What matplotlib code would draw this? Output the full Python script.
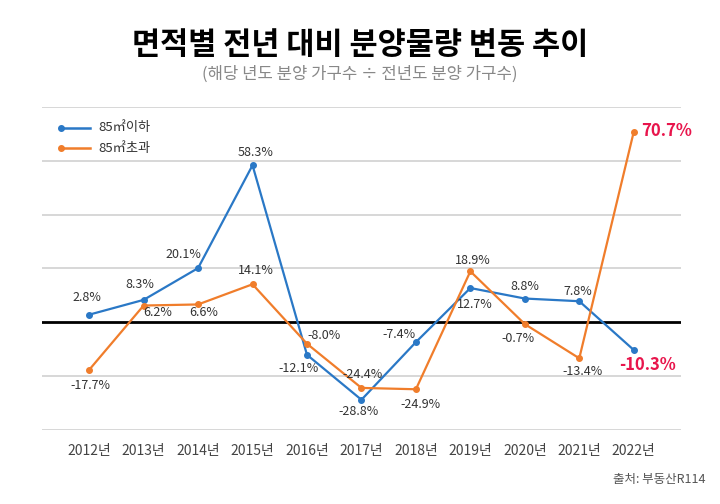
import matplotlib.pyplot as plt

plt.rcParams['font.family'] = ['Noto Sans CJK KR', 'DejaVu Sans']

years = ['2012년', '2013년', '2014년', '2015년', '2016년', '2017년',
         '2018년', '2019년', '2020년', '2021년', '2022년']
small = [2.8, 8.3, 20.1, 58.3, -12.1, -28.8, -7.4, 12.7, 8.8, 7.8, -10.3]   # 85㎡이하
large = [-17.7, 6.2, 6.6, 14.1, -8.0, -24.4, -24.9, 18.9, -0.7, -13.4, 70.7]  # 85㎡초과

blue = '#2a78c6'
orange = '#f07d2b'
red = '#e8154c'

# label offsets in pixels (dx, dy)
off_small = [(-2, 17), (-4, 15), (-15, 14), (3, 13), (-8, -14), (-3, -12),
             (-17, 8), (4, -16), (0, 12), (-1, 10), (14, -15)]
off_large = [(1, -16), (14, -7), (6, -8), (3, 14), (17, 8), (1, 13),
             (5, -15), (2, 11), (-7, -14), (3, -13), (7, 1)]

fig = plt.figure(figsize=(7.2, 5.04), dpi=100)
ax = fig.add_axes([0.058, 0.147, 0.888, 0.641])

x = list(range(len(years)))
for v in [-40, -20, 20, 40, 60, 80]:
    ax.axhline(v, color='#d4d4d4', lw=1.3, zorder=0)
ax.axhline(0, color='black', lw=2, zorder=1)

ax.plot(x, small, '-o', color=blue, lw=1.6, ms=4, zorder=3)
ax.plot(x, large, '-o', color=orange, lw=1.6, ms=4, zorder=3)

for i, v in enumerate(small):
    last = i == len(small) - 1
    ax.annotate(f'{v:.1f}%', (i, v), xytext=off_small[i], textcoords='offset pixels',
                ha='center', va='center', fontsize=12 if last else 9,
                color=red if last else '#333333', fontweight='bold' if last else 'normal')
for i, v in enumerate(large):
    last = i == len(large) - 1
    ax.annotate(f'{v:.1f}%', (i, v), xytext=off_large[i], textcoords='offset pixels',
                ha='left' if last else 'center', va='center', fontsize=12 if last else 9,
                color=red if last else '#333333', fontweight='bold' if last else 'normal')

ax.set_xlim(-0.87, 10.87)
ax.set_ylim(-40, 80)
ax.set_xticks(x)
ax.set_xticklabels(years, fontsize=10, color='#444444')
ax.tick_params(axis='x', length=0, pad=10)
ax.set_yticks([])
for s in ax.spines.values():
    s.set_visible(False)

# legend
for k, (lab, c) in enumerate([('85㎡이하', blue), ('85㎡초과', orange)]):
    yy = 0.935 - k * 0.063
    ax.plot([0.03, 0.075], [yy, yy], color=c, lw=1.8, transform=ax.transAxes)
    ax.plot([0.03], [yy], 'o', color=c, ms=4, transform=ax.transAxes)
    ax.text(0.088, yy, lab, transform=ax.transAxes, va='center', fontsize=9.5, color='#333333')

fig.text(0.5, 0.91, '면적별 전년 대비 분양물량 변동 추이', ha='center', va='center',
         fontsize=22, fontweight='bold', color='black')
fig.text(0.5, 0.852, '(해당 년도 분양 가구수 ÷ 전년도 분양 가구수)', ha='center', va='center',
         fontsize=12, color='#888888')
fig.text(0.915, 0.048, '출처: 부동산R114', ha='center', va='center', fontsize=9, color='#555555')

fig.savefig('out.png', dpi=100)
